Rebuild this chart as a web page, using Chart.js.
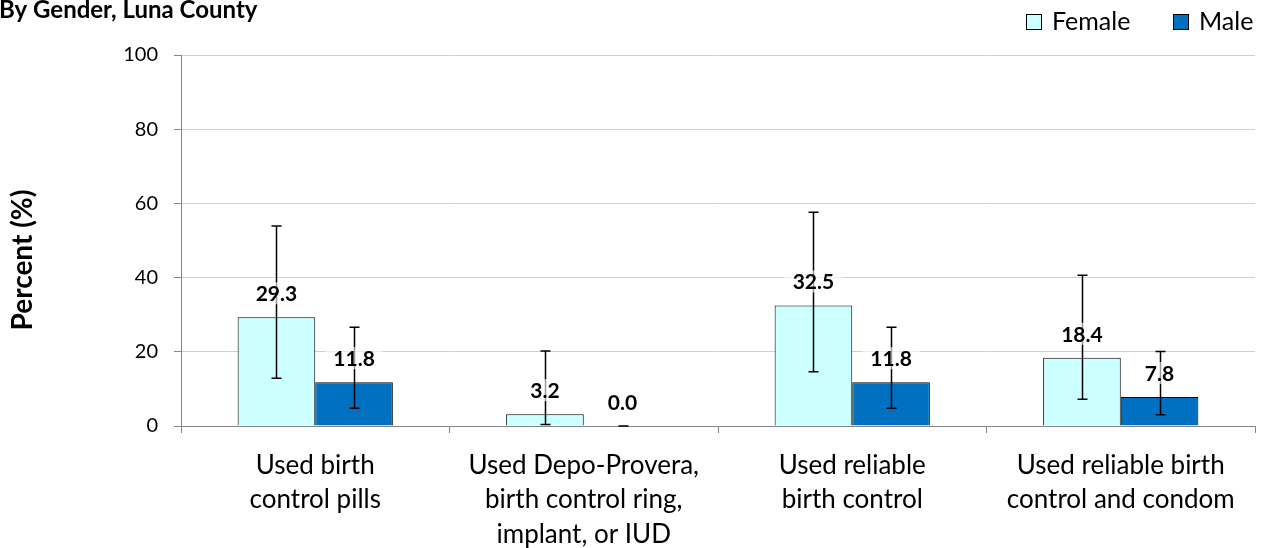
<!DOCTYPE html>
<html>
<head>
<meta charset="utf-8">
<script src="https://cdn.jsdelivr.net/npm/chart.js@4.4.1/dist/chart.umd.min.js"></script>
<style>
  html, body { margin: 0; padding: 0; background: #fff; overflow: hidden; }
  #wrap { width: 1264px; height: 548px; position: relative; }
</style>
</head>
<body>
<div id="wrap"><canvas id="c" width="1264" height="548"></canvas></div>
<script>
// Categories (multi-line labels) and series
const categories = [
  ["Used birth", "control pills"],
  ["Used Depo-Provera,", "birth control ring,", "implant, or IUD"],
  ["Used reliable", "birth control"],
  ["Used reliable birth", "control and condom"]
];
const seriesNames = ["Female", "Male"];
const femaleValues = [29.3, 3.2, 32.5, 18.4];
const maleValues = [11.8, 0.0, 11.8, 7.8];
// 95% confidence interval bounds
const femaleLow = [12.9, 0.4, 14.6, 7.2];
const femaleHigh = [53.9, 20.2, 57.6, 40.6];
const maleLow = [4.8, 0.0, 4.8, 3.0];
const maleHigh = [26.6, 0.0, 26.6, 20.1];
const yTicks = [0, 20, 40, 60, 80, 100];
const titleText = "By Gender, Luna County";
const yAxisTitle = "Percent (%)";

const FONT = "Lato";
const femaleColor = "#ccffff";
const maleColor = "#0070c0";
const axisColor = "#868686";

// White page background
const bgPlugin = {
  id: "bg",
  beforeDraw(chart) {
    const ctx = chart.ctx;
    ctx.save();
    ctx.fillStyle = "#fff";
    ctx.fillRect(0, 0, chart.width, chart.height);
    ctx.restore();
  }
};

// Error bars with caps from the low/high arrays
const errorBarPlugin = {
  id: "errorBars",
  afterDatasetsDraw(chart) {
    const ctx = chart.ctx;
    const y = chart.scales.y;
    chart.data.datasets.forEach((ds, i) => {
      const meta = chart.getDatasetMeta(i);
      meta.data.forEach((bar, j) => {
        const yl = y.getPixelForValue(ds.errLow[j]);
        const yh = y.getPixelForValue(ds.errHigh[j]);
        const x = Math.round(bar.x) + 0.5;
        ctx.save();
        ctx.strokeStyle = "#000";
        ctx.lineWidth = 1.5;
        ctx.beginPath();
        ctx.moveTo(x, yl); ctx.lineTo(x, yh);
        ctx.moveTo(x - 5, yl); ctx.lineTo(x + 5, yl);
        ctx.moveTo(x - 5, yh); ctx.lineTo(x + 5, yh);
        ctx.stroke();
        ctx.restore();
      });
    });
  }
};

// Value labels above each bar on a translucent white box
const valueLabelPlugin = {
  id: "valueLabels",
  afterDatasetsDraw(chart) {
    const ctx = chart.ctx;
    const y = chart.scales.y;
    ctx.save();
    ctx.font = "bold 21px " + FONT;
    ctx.textAlign = "center";
    ctx.textBaseline = "middle";
    chart.data.datasets.forEach((ds, i) => {
      const meta = chart.getDatasetMeta(i);
      meta.data.forEach((bar, j) => {
        const v = ds.data[j];
        const txt = v.toFixed(1);
        const cy = y.getPixelForValue(v) - 24;
        const w = ctx.measureText(txt).width;
        ctx.fillStyle = "rgba(255,255,255,0.6)";
        ctx.fillRect(bar.x - w / 2 - 8, cy - 11, w + 16, 22);
        ctx.fillStyle = "#000";
        ctx.fillText(txt, bar.x, cy + 1);
      });
    });
    ctx.restore();
  }
};

// Heading, axis title and legend
const decorPlugin = {
  id: "decor",
  afterDraw(chart) {
    const ctx = chart.ctx;
    ctx.save();
    ctx.fillStyle = "#000";
    ctx.font = "bold 24px " + FONT;
    ctx.textAlign = "left";
    ctx.textBaseline = "alphabetic";
    ctx.fillText(titleText, -1, 18);

    ctx.save();
    ctx.translate(23, 260);
    ctx.rotate(-Math.PI / 2);
    ctx.font = "bold 28px " + FONT;
    ctx.textAlign = "center";
    ctx.textBaseline = "middle";
    ctx.fillText(yAxisTitle, 0, 0);
    ctx.restore();

    const items = [
      { name: seriesNames[0], color: femaleColor, bx: 1026, tx: 1052 },
      { name: seriesNames[1], color: maleColor, bx: 1173, tx: 1199 }
    ];
    ctx.font = "25px " + FONT;
    ctx.textBaseline = "middle";
    items.forEach(it => {
      ctx.fillStyle = it.color;
      ctx.fillRect(it.bx, 14, 15, 15);
      ctx.strokeStyle = "#000";
      ctx.lineWidth = 1;
      ctx.strokeRect(it.bx + 0.5, 14.5, 15, 15);
      ctx.fillStyle = "#000";
      ctx.fillText(it.name, it.tx, 22);
    });
    ctx.restore();
  }
};

function build() {
  new Chart(document.getElementById("c"), {
    type: "bar",
    data: {
      labels: categories,
      datasets: [
        {
          label: seriesNames[0],
          data: femaleValues,
          errLow: femaleLow,
          errHigh: femaleHigh,
          backgroundColor: femaleColor,
          borderColor: "#000",
          borderWidth: 1
        },
        {
          label: seriesNames[1],
          data: maleValues,
          errLow: maleLow,
          errHigh: maleHigh,
          backgroundColor: maleColor,
          borderColor: "#000",
          borderWidth: 1
        }
      ]
    },
    options: {
      responsive: false,
      animation: false,
      devicePixelRatio: 1,
      categoryPercentage: 0.578,
      barPercentage: 1.0,
      layout: { padding: { top: 55, right: 9, left: 0, bottom: 0 } },
      plugins: {
        legend: { display: false },
        title: { display: false },
        tooltip: { enabled: false }
      },
      scales: {
        x: {
          grid: {
            display: true,
            drawOnChartArea: false,
            drawTicks: true,
            tickLength: 7,
            tickColor: axisColor,
            offset: true
          },
          border: { color: axisColor, width: 1 },
          ticks: {
            color: "#000",
            font: { family: FONT, size: 26, lineHeight: 1.31 },
            padding: 16,
            maxRotation: 0,
            autoSkip: false
          },
          afterFit(s) { s.height = 122; }
        },
        y: {
          min: 0,
          max: 100,
          afterBuildTicks(s) { s.ticks = yTicks.map(v => ({ value: v })); },
          grid: {
            color: "#d0d0d0",
            tickColor: axisColor,
            tickLength: 7
          },
          border: { color: axisColor, width: 1 },
          ticks: {
            color: "#000",
            font: { family: FONT, size: 20 },
            padding: 16
          },
          afterFit(s) { s.width = 181; }
        }
      }
    },
    plugins: [bgPlugin, errorBarPlugin, valueLabelPlugin, decorPlugin]
  });
}

Promise.all([
  document.fonts.load("20px " + FONT),
  document.fonts.load("bold 20px " + FONT)
]).then(build, build);
</script>
</body>
</html>
